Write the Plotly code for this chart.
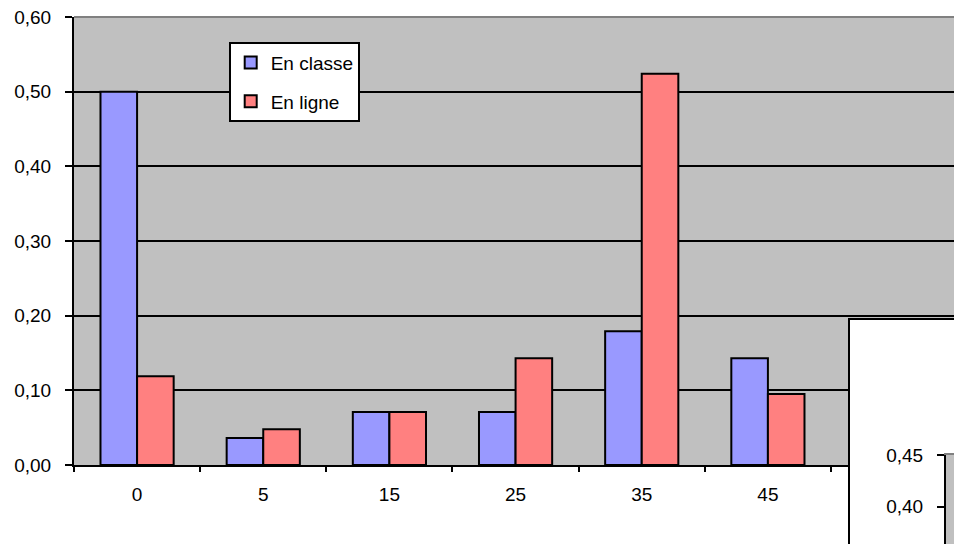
import plotly.graph_objects as go

# Share of answers per duration bucket
categories = ["0", "5", "15", "25", "35", "45"]
en_classe = [0.500, 0.036, 0.071, 0.071, 0.179, 0.143]
en_ligne = [0.119, 0.048, 0.071, 0.143, 0.524, 0.095]
series_names = ["En classe", "En ligne"]
series_colors = ["#9999FF", "#FF8080"]

# Second chart sitting on top of the first one (only its corner shows)
inset_ticks = [0.40, 0.45]

W, H = 954, 544
FONT = "Liberation Sans, Arial, sans-serif"
FS = 19


def fx(px):
    return px / W


def fy(px):
    # pixel measured from the top -> paper fraction
    return 1 - px / H


fig = go.Figure()

for name, vals, col, grp in zip(series_names, [en_classe, en_ligne], series_colors, ["a", "b"]):
    fig.add_trace(go.Bar(
        x=categories, y=vals, name=name, legendgroup=grp,
        marker=dict(color=col, line=dict(color="black", width=2)),
        xaxis="x", yaxis="y",
    ))

# placeholder traces so the overlapping frame and the corner chart exist as subplots
fig.add_trace(go.Scatter(x=[0.5], y=[0.5], xaxis="x2", yaxis="y2", mode="markers",
                         marker=dict(opacity=0), hoverinfo="skip", showlegend=False))
fig.add_trace(go.Scatter(x=[0.5], y=[inset_ticks[0]], xaxis="x3", yaxis="y3", mode="markers",
                         marker=dict(opacity=0), hoverinfo="skip", showlegend=False))

fig.update_layout(
    width=W, height=H, autosize=False,
    margin=dict(l=0, r=0, t=0, b=0, pad=0, autoexpand=False),
    paper_bgcolor="white",
    plot_bgcolor="#C0C0C0",
    separators=", ",
    font=dict(family=FONT, size=FS, color="black"),
    bargap=0.42, bargroupgap=0,
    barmode="group",
    showlegend=True,
    legend=dict(
        x=fx(229), y=fy(42), xanchor="left", yanchor="top",
        bgcolor="white", bordercolor="black", borderwidth=1.7,
        font=dict(family=FONT, size=FS, color="black"),
        tracegroupgap=11, itemwidth=30,
    ),
    xaxis=dict(
        domain=[fx(74), 1], anchor="y", type="category",
        range=[-0.5, 6.475], tickson="boundaries",
        ticks="outside", ticklen=5, tickwidth=2, tickcolor="black",
        showline=True, linecolor="black", linewidth=2,
        showgrid=False, zeroline=False, ticklabelstandoff=11,
        automargin=False, fixedrange=True,
    ),
    yaxis=dict(
        domain=[fy(465), fy(17)], anchor="x",
        range=[0, 0.6], dtick=0.1, tick0=0, tickformat=".2f",
        ticks="outside", ticklen=7, tickwidth=2, tickcolor="black",
        showline=True, linecolor="black", linewidth=2,
        showgrid=True, gridcolor="black", gridwidth=1.7,
        zeroline=False, ticklabelstandoff=10,
        automargin=False, fixedrange=True,
    ),
    # white frame of the overlapping chart
    xaxis2=dict(
        domain=[fx(850), 1], anchor="y2", side="top", range=[0, 1],
        showline=True, linecolor="black", linewidth=2,
        showticklabels=False, ticks="", showgrid=False, zeroline=False,
        automargin=False, fixedrange=True,
    ),
    yaxis2=dict(
        domain=[0, fy(320)], anchor="x2", range=[0, 1],
        showline=True, linecolor="black", linewidth=2,
        showticklabels=False, ticks="", showgrid=False, zeroline=False,
        automargin=False, fixedrange=True,
    ),
    # corner of the overlapping chart's plot area
    xaxis3=dict(
        domain=[fx(946), 1], anchor="y3", side="top", range=[0, 1],
        showline=True, linecolor="#808080", linewidth=2,
        showticklabels=False, ticks="", showgrid=False, zeroline=False,
        automargin=False, fixedrange=True,
    ),
    yaxis3=dict(
        domain=[0, fy(455)], anchor="x3", range=[0.45 - 89 * 0.05 / 51.7, 0.45],
        tickvals=inset_ticks, tickformat=".2f",
        ticks="outside", ticklen=7, tickwidth=2, tickcolor="black",
        showline=True, linecolor="black", linewidth=2,
        showgrid=False, zeroline=False, ticklabelstandoff=10,
        automargin=False, fixedrange=True,
    ),
    shapes=[
        # white fill of the overlapping frame
        dict(type="rect", xref="x2", yref="y2", x0=0, x1=1, y0=0, y1=1,
             fillcolor="white", line=dict(width=0), layer="below"),
        # grey top border of the main plot area
        dict(type="line", xref="x domain", yref="y domain", x0=0, x1=1, y0=1, y1=1,
             line=dict(color="#808080", width=2), layer="above"),
    ],
)

fig.write_html("out.html", config={"displayModeBar": False})
